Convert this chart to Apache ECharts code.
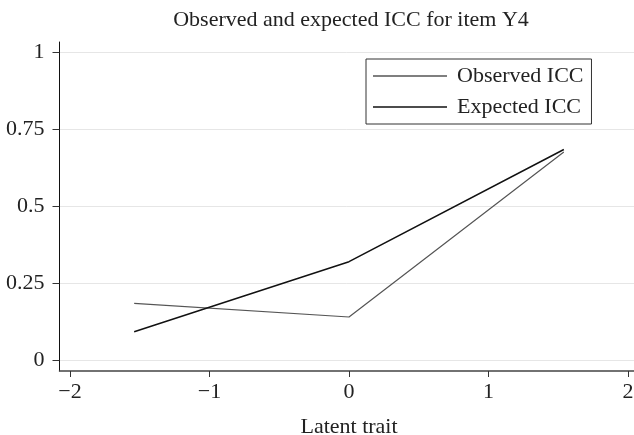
<!DOCTYPE html>
<html>
<head>
<meta charset="utf-8">
<title>Observed and expected ICC for item Y4</title>
<script src="https://cdn.jsdelivr.net/npm/echarts@6/dist/echarts.min.js"></script>
<style>
  html, body { margin: 0; padding: 0; background: #fff; }
  #chart { width: 634px; height: 435px; }
</style>
</head>
<body>
<div id="chart"></div>
<script>
// Latent trait points where the ICCs are evaluated
const traitPoints = [-1.54, 0, 1.54];
// Proportion responding, observed vs model-expected
const observedICC = [0.184, 0.14, 0.677];
const expectedICC = [0.092, 0.32, 0.685];
// Axis ticks
const xTicks = [-2, -1, 0, 1, 2];
const yTicks = [0, 0.25, 0.5, 0.75, 1];

const FONT = '"Liberation Serif", "Times New Roman", serif';
const FS = 22;

// Outer frame extent (axis lines run a little past the outer ticks)
const xFrame = [-2.0753, 2.043];
const yFrame = [-0.0358, 1.0348];

const pair = (xs, ys) => xs.map((x, i) => [x, ys[i]]);

const chart = echarts.init(document.getElementById('chart'), null, { renderer: 'canvas' });

// Fixed plot boxes; labels must not push the plot area around
const box = (o) => Object.assign({ containLabel: false, outerBoundsMode: 'none' }, o);

chart.setOption({
  animation: false,
  backgroundColor: '#fff',
  title: {
    text: 'Observed and expected ICC for item Y4',
    left: 346,
    top: 4,
    textAlign: 'center',
    textStyle: { fontFamily: FONT, fontSize: FS, fontWeight: 'normal', color: '#222' }
  },
  legend: {
    orient: 'vertical',
    left: 366,
    top: 59,
    padding: [6, 8, 6, 7],
    icon: 'rect',
    itemWidth: 74,
    itemHeight: 1.4,
    itemGap: 9,
    borderColor: '#333',
    borderWidth: 1,
    backgroundColor: '#fff',
    textStyle: { fontFamily: FONT, fontSize: FS, color: '#222', padding: [0, 0, 0, 5] },
    data: ['Observed ICC', 'Expected ICC']
  },
  grid: [
    // frame: axis lines
    box({ left: 59.5, right: 0, top: 42, bottom: 64 }),
    // data and y ticks / gridlines
    box({ left: 59.5, right: 0, top: 52.7, bottom: 75 }),
    // x ticks
    box({ left: 70, right: 6, top: 52.7, bottom: 75 })
  ],
  xAxis: [
    {
      gridIndex: 0, type: 'value', min: xFrame[0], max: xFrame[1],
      axisLine: { show: true, onZero: false, lineStyle: { color: '#444', width: 1.5 } },
      axisTick: { show: false }, axisLabel: { show: false }, splitLine: { show: false }
    },
    {
      gridIndex: 1, type: 'value', min: xFrame[0], max: xFrame[1], show: false,
      axisLine: { onZero: false }
    },
    {
      gridIndex: 2, type: 'value', min: xTicks[0], max: xTicks[xTicks.length - 1], interval: 1,
      offset: 11,
      name: 'Latent trait', nameLocation: 'middle', nameGap: 45,
      nameTextStyle: { fontFamily: FONT, fontSize: FS, color: '#222' },
      axisLine: { show: false, onZero: false },
      axisTick: { show: true, length: 6, lineStyle: { color: '#333', width: 1 } },
      axisLabel: {
        fontFamily: FONT, fontSize: FS, color: '#222', margin: 10,
        formatter: v => (v < 0 ? '\u2212' + Math.abs(v) : String(v))
      },
      splitLine: { show: false }
    }
  ],
  yAxis: [
    {
      gridIndex: 0, type: 'value', min: yFrame[0], max: yFrame[1],
      axisLine: { show: true, onZero: false, lineStyle: { color: '#111', width: 1 } },
      axisTick: { show: false }, axisLabel: { show: false }, splitLine: { show: false }
    },
    {
      gridIndex: 1, type: 'value', min: yTicks[0], max: yTicks[yTicks.length - 1], interval: 0.25,
      axisLine: { show: false, onZero: false },
      axisTick: { show: true, length: 7, lineStyle: { color: '#333', width: 1 } },
      axisLabel: {
        fontFamily: FONT, fontSize: FS, color: '#222', margin: 15,
        formatter: v => String(v)
      },
      splitLine: { show: true, lineStyle: { color: '#e6e6e6', width: 1 } }
    },
    {
      gridIndex: 2, type: 'value', min: 0, max: 1, show: false,
      axisLine: { onZero: false }
    }
  ],
  series: [
    {
      name: 'Observed ICC', type: 'line', xAxisIndex: 1, yAxisIndex: 1,
      symbol: 'none',
      lineStyle: { color: '#555', width: 1.2 },
      itemStyle: { color: '#555' },
      data: pair(traitPoints, observedICC)
    },
    {
      name: 'Expected ICC', type: 'line', xAxisIndex: 1, yAxisIndex: 1,
      symbol: 'none',
      lineStyle: { color: '#111', width: 1.5 },
      itemStyle: { color: '#111' },
      data: pair(traitPoints, expectedICC)
    }
  ]
});
</script>
</body>
</html>
